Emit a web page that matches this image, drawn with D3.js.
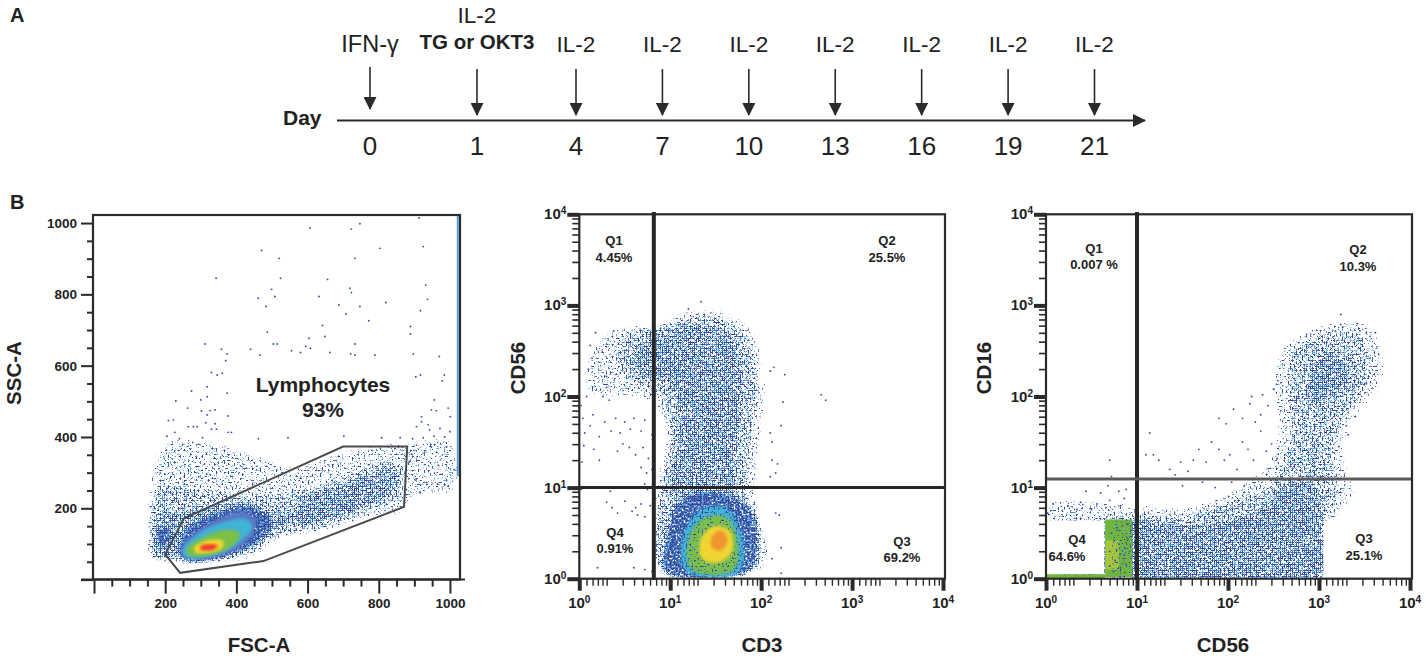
<!DOCTYPE html>
<html>
<head>
<meta charset="utf-8">
<script src="https://cdn.jsdelivr.net/npm/d3@7"></script>
<style>
body{margin:0;background:#fff;}
text{font-family:"Liberation Sans",Arial,sans-serif;fill:#222;}
</style>
</head>
<body>
<svg id="fig" width="1426" height="658"></svg>
<script>
// --- panel A
var days = [0,1,4,7,10,13,16,19,21];
var treatments = ["IFN-γ","IL-2","IL-2","IL-2","IL-2","IL-2","IL-2","IL-2","IL-2"];

// --- panel B, tick labels and texts
var fscTicks = [200,400,600,800,1000];
var decades = [1,10,100,1000,10000];
var decadeLabels = ["0","1","2","3","4"];
var quadCd3 = [["Q1","4.45%"],["Q2","25.5%"],["Q3","69.2%"],["Q4","0.91%"]];
var quadCd56 = [["Q1","0.007 %"],["Q2","10.3%"],["Q3","25.1%"],["Q4","64.6%"]];

// lymphocyte gate, FSC-A / SSC-A values
var gate = [[253,172],[700,373],[880,373],[871,204],[476,52],[242,19],[200,71]];
var edgeStrip = [[1022,1023],[1022,290]];

// density contours, [fsc,ssc]
var fscLevels = [
 {level:"sparse",p:[[150,230],[165,330],[205,400],[300,385],[420,375],[560,330],[700,375],[880,400],[1010,400],[1020,240],[900,220],[880,180],[780,160],[640,120],[520,100],[460,55],[300,30],[200,35],[150,50]]},
 {level:"sparse",p:[[150,220],[160,340],[210,405],[300,400],[410,375],[320,250],[180,210]]},
 {level:"light",p:[[150,50],[140,130],[160,260],[280,270],[430,250],[560,260],[700,300],[800,340],[870,340],[870,220],[780,180],[640,130],[520,110],[460,70],[300,40],[200,40]]},
 {level:"medium",p:[[165,60],[155,130],[175,200],[250,200],[340,220],[420,230],[500,200],[600,220],[680,250],[760,290],[790,270],[760,210],[680,165],[590,150],[510,130],[450,80],[320,45],[220,50]]},
 {level:"medium",p:[[560,140],[560,225],[680,275],[780,310],[850,330],[860,250],[760,190],[650,150]]},
 {level:"dense",p:[[165,90],[165,150],[215,165],[235,110],[210,80]]},
 {level:"dense",p:[[235,45],[220,90],[250,155],[330,200],[425,225],[510,190],[510,130],[445,75],[340,40]]},
 {level:"blue",p:[[252,62],[245,88],[280,128],[350,170],[420,190],[455,165],[435,112],[345,62]]},
 {level:"cyan",p:[[255,64],[250,85],[288,125],[360,160],[425,170],[445,148],[415,110],[340,68]]},
 {level:"green",p:[[265,68],[262,88],[310,120],[370,140],[410,130],[395,100],[340,72]]},
 {level:"yellow",p:[[285,76],[282,92],[320,110],[362,108],[360,88],[325,76]]},
 {level:"red",p:[[300,84],[300,94],[330,100],[348,94],[335,84]]}
];
// log10 values below, [cd3,cd56]
var cd3Levels = [
 {level:"sparse",p:[[.05,2.0],[.1,2.55],[.4,2.8],[.85,2.85],[1.2,3.0],[1.6,2.98],[1.95,2.75],[2.08,2.2],[2.05,1.6],[2.0,1.1],[2.05,.6],[2.15,.3],[2,.03],[.85,.03],[.8,1],[.9,1.6],[.75,1.9],[.4,1.95]]},
 {level:"light",p:[[.35,2.5],[.5,2.75],[.85,2.8],[1.2,2.93],[1.6,2.9],[1.9,2.65],[2,2.2],[1.95,1.6],[1.9,1.1],[1.95,.6],[2.05,.3],[1.95,.05],[.85,.05],[.85,1],[.95,1.6],[.8,2.0],[.45,2.2]]},
 {level:"medium",p:[[.9,2.75],[1.3,2.85],[1.75,2.65],[1.85,2],[1.75,1.3],[1.75,.9],[.95,.9],[1.05,1.6],[.95,2.1],[.6,2.2],[.55,2.5]]},
 {level:"medium",p:[[.9,2.3],[.95,2.6],[1.2,2.65],[1.3,2.4],[1.2,2.1],[1.0,2.15]]},
 {level:"dense",p:[[.9,.03],[.9,.5],[1.05,.9],[1.5,1.02],[1.95,.8],[2.02,.3],[1.9,.03]]},
 {level:"cyan",p:[[1.18,.08],[1.14,.46],[1.32,.74],[1.6,.78],[1.78,.5],[1.76,.08]]},
 {level:"light",p:[[1.1,.04],[1.08,.5],[1.3,.84],[1.65,.86],[1.86,.55],[1.84,.04]]},
 {level:"green",p:[[1.24,.1],[1.2,.42],[1.36,.66],[1.6,.68],[1.73,.46],[1.7,.1]]},
 {level:"sparse",p:[[1.15,.06],[1.12,.46],[1.34,.74],[1.62,.76],[1.8,.48],[1.78,.06]]},
 {level:"yellow",p:[[1.35,.22],[1.34,.45],[1.5,.58],[1.66,.52],[1.68,.3],[1.55,.18]]},
 {level:"orange",p:[[1.46,.34],[1.46,.47],[1.57,.53],[1.63,.42],[1.56,.31]]}
];
// [cd56,cd16]
var cd56Levels = [
 {level:"sparse",p:[[0,.02],[0,.85],[.5,.9],[1,.85],[1.6,.85],[2.1,1.05],[2.4,1.3],[2.5,1.7],[2.45,2.1],[2.55,2.55],[3.1,2.85],[3.6,2.8],[3.75,2.2],[3.35,1.6],[3.35,1.2],[3.45,.9],[3.2,.6],[3.1,.02]]},
 {level:"light",p:[[0,.02],[0,.65],[.4,.72],[.9,.75],[1.5,.75],[2.0,.9],[2.4,1.05],[2.65,1.6],[2.6,2.1],[2.65,2.5],[3.1,2.75],[3.5,2.7],[3.6,2.2],[3.25,1.6],[3.2,1.2],[3.28,.9],[3.1,.6],[3.05,.02]]},
 {level:"medium",p:[[.95,-.1],[.95,.66],[1.6,.64],[2.3,.8],[2.55,1.05],[2.95,1.1],[3.1,.7],[3.05,-.1]]},
 {level:"light",p:[[2.75,1.1],[2.85,1.7],[2.75,2.0],[2.8,2.4],[3.2,2.6],[3.4,2.3],[3.25,1.9],[3.05,1.6],[3.1,1.1]]},
 {level:"medium",p:[[2.82,2.05],[2.98,2.48],[3.28,2.45],[3.38,2.2],[3.15,1.95],[2.92,1.85]]},
 {level:"light",p:[[2.4,.05],[2.4,.6],[2.65,.9],[2.95,1.0],[3.03,.7],[3.03,.05]]},
 {level:"medium",p:[[.9,-.05],[.9,.7],[1.2,.66],[1.2,-.05]]}
];
// solid block and strip left of the vertical gate, [cd56,cd16]
var cd56Block = [[.65,.02],[.65,.65],[.95,.65],[.95,.02]];
var cd56Core = [[.66,.1],[.66,.42],[.8,.42],[.8,.1]];
var cd56Strip = [[0,0],[0,.05],[.65,.05],[.65,0]];
var cd56Grain = [[.72,-.05],[.72,.7],[1,.7],[1,-.05]];
var cd56WhiteQ4 = [[0,.05],[.64,.64]];
var cd56WhiteQ3 = [[3.05,0.02],[3.99,.64]];

// outlying events, flat x,y lists
var fscEvents = [
607,986,723,983,747,998,913,1014,471,923,520,901,733,901,803,929,925,934,524,845,343,845,656,842,499,814,719,817,723,805,932,826,461,789,508,794,632,794,937,786,820,777,483,766,688,770,747,766,708,745,917,754,772,726,642,713,889,710,487,694,889,689,649,682,604,677,312,661,504,661,515,661,595,654,608,649,733,661,358,646,440,646,555,642,580,637,663,637,721,633,733,630,789,630,466,630,374,633,370,614,897,633,970,626,330,581,346,574,360,579,904,569,917,574,984,574,318,541,978,557,274,529,318,513,374,523,300,504,230,501,956,504,263,481,302,473,326,474,340,476,948,476,962,474,995,481,318,462,377,459,1001,457,920,457,209,446,223,448,314,440,340,437,920,443,265,429,279,429,290,429,906,429,939,434,330,422,344,422,227,413,377,413,386,413,943,420,1000,415,972,424,
885,330,892,352,908,345,928,355,948,372,968,320,990,372,1012,308,905,282,935,272,965,268,995,262,915,245,985,400,955,402,925,398,895,395,
205,402,240,395,305,398,462,395,545,398,702,402,808,398,860,398
];

var cd3Events = [
.3,2.1,.26,2,.33,1.96,.08,2,.02,1.9,.04,1.76,.06,1.6,.12,1.68,.15,1.8,.22,1.56,.28,1.72,.35,1.62,.4,1.76,.45,1.6,.5,1.72,.56,1.64,.6,1.76,.68,1.62,.72,1.74,.8,1.58,
.05,1.46,.03,1.28,.16,1.42,.42,1.4,.48,1.48,.55,1.44,.62,1.36,.7,1.44,.76,1.32,.82,1.4,.68,1.22,.74,1.16,.8,1.2,.72,1.04,.78,1,.83,1.1,.84,.88,.75,.98,
.22,1.3,.34,.96,.02,.98,.2,.12,.36,.78,.42,.72,.5,.85,.58,.74,.64,.7,.68,.82,.72,.68,.78,.8,.3,.84,.62,.78,.8,.08,.72,.1,.6,.12,.82,.18,
.14,2.42,.1,2.3,.12,2.56,.18,2.7,.3,2.22,.38,2.72,2.1,2.28,2.14,2.32,2.26,2.24,2.24,1.94,2.66,2.02,2.71,1.96,2.22,1.68,2.1,1.6,2.12,1.5,2.12,1.3,2.18,1.26,2.16,1.16,2.1,1.12,2.16,.72,2.2,.7,2.22,.34,2.12,.22,2.22,.06,1.34,3.04,1.2,2.96
];

var cd56Events = [
.02,.72,.18,.74,.34,.76,.5,.76,.66,.78,.82,.8,.08,.82,.24,.8,.38,.84,.56,.82,.7,.86,.86,.88,.68,1.02,.72,1.12,.44,.96,.6,.94,.8,.96,.88,.98,.7,1.3,
1.14,1.6,1.1,1.36,1.18,1.36,1.24,1.3,1.3,1.1,1.36,1.2,1.42,1.14,1.48,1.28,1.56,1.18,1.62,1.3,1.68,1.42,1.76,1.28,1.82,1.5,1.9,1.42,1.96,1.3,2.02,1.36,2.1,1.2,2.16,1.5,2.22,1.42,2.28,1.3,2.36,1.62,2.42,1.4,2.48,1.48,2.54,1.32,1.98,1.7,1.9,1.76,2.06,1.86,2.16,1.76,2.24,1.92,2.3,1.72,2.36,1.8,2.44,1.9,2.26,2,2.38,2.02,2.5,2.08,1.5,1.02,1.72,1.06,1.86,1,2.04,1.06,2.18,1.02,
3.56,2.66,3.62,2.7,3.52,2.7,3.45,2.72,3.26,2.76,3.18,2.72,3.24,2.9,3.42,2.8,3.5,2.4,3.56,2.42,3.56,2.26,3.52,2.14,3.4,1.78,3.3,1.68,3.32,1.58,
.7,.3,.72,.5,.76,.2,.8,.38,.84,.58,.88,.16,.9,.44,.74,.08,.82,.12,.78,.56,.92,.3,.86,.26,.7,.14,.75,.42,.9,.6
];

// how each contour level is painted
var stipple = {sparse:.05,light:.11,medium:.16,dense:.23};
var solid = {blue:"#5a78c6",cyan:"#3fb3d6",green:"#7cc046",yellow:"#f0d530",orange:"#f0952e",red:"#ee3a2a"};

var svg = d3.select("#fig");
var defs = svg.append("defs");
defs.append("filter").attr("id","soft").append("feGaussianBlur").attr("stdDeviation",1.8);
defs.append("marker").attr("id","head").attr("markerUnits","userSpaceOnUse")
  .attr("markerWidth",13).attr("markerHeight",13).attr("refX",12).attr("refY",6.5).attr("orient","auto")
  .append("path").attr("d","M0,0L13,6.5L0,13Z").attr("fill","#2a2a2a");

// grain filter: turns a contour into flow cytometry style dots
function addLayer(f,seed,d,rgb,name){
  f.append("feTurbulence").attr("type","fractalNoise").attr("baseFrequency",.5).attr("numOctaves",1).attr("seed",seed).attr("result","n"+name);
  f.append("feColorMatrix").attr("in","n"+name).attr("type","matrix")
    .attr("values","0 0 0 0 0 0 0 0 0 0 0 0 0 0 0 1 0 0 0 0").attr("result","a"+name);
  f.append("feComposite").attr("in","a"+name).attr("in2","edge").attr("operator","arithmetic")
    .attr("k1",1).attr("k2",0).attr("k3",d).attr("k4",0).attr("result","s"+name);
  f.append("feComponentTransfer").attr("in","s"+name).attr("result","m"+name)
    .append("feFuncA").attr("type","linear").attr("slope",10).attr("intercept",-6.6);
  f.append("feColorMatrix").attr("in","m"+name).attr("type","matrix")
    .attr("values","0 0 0 0 "+rgb[0]+" 0 0 0 0 "+rgb[1]+" 0 0 0 0 "+rgb[2]+" 0 0 0 1 0").attr("result","o"+name);
}
Object.keys(stipple).forEach(function(k,i){
  var f = defs.append("filter").attr("id","st-"+k).attr("filterUnits","userSpaceOnUse")
    .attr("x",0).attr("y",0).attr("width",1426).attr("height",658).attr("color-interpolation-filters","sRGB");
  f.append("feGaussianBlur").attr("in","SourceAlpha").attr("stdDeviation",4).attr("result","edge");
  addLayer(f,11+i,stipple[k]-.035,[.31,.70,.89],"C");
  addLayer(f,3+i,stipple[k],[.2,.28,.62],"B");
  var m = f.append("feMerge");
  m.append("feMergeNode").attr("in","oC");
  m.append("feMergeNode").attr("in","oB");
});

// ---------- panel A
var dayPos = d3.scaleLinear().domain([0,1,2,8]).range([370,477,576,1094.5]);
var dayY = 120.5;

svg.append("text").attr("x",10).attr("y",22).attr("font-size",20).attr("font-weight","bold").text("A");
svg.append("text").attr("x",10).attr("y",209).attr("font-size",20).attr("font-weight","bold").text("B");
svg.append("text").attr("x",283).attr("y",125).attr("font-size",21).attr("font-weight","bold").text("Day");

svg.append("line").attr("x1",337).attr("x2",1145).attr("y1",dayY).attr("y2",dayY)
  .attr("stroke","#2a2a2a").attr("stroke-width",2).attr("marker-end","url(#head)");

var dayG = svg.selectAll(".day").data(days).enter().append("g").attr("class","day")
  .attr("transform",function(d,i){return "translate("+dayPos(i)+",0)";});
dayG.append("line").attr("y1",function(d,i){return i==0?67:69;}).attr("y2",function(d,i){return i==0?109:115;})
  .attr("stroke","#2a2a2a").attr("stroke-width",1.6).attr("marker-end","url(#head)");
dayG.append("text").attr("text-anchor","middle").attr("y",155).attr("font-size",26).text(function(d){return d;});
dayG.append("text").attr("text-anchor","middle").attr("y",function(d,i){return i==1?23:52;})
  .attr("font-size",function(d,i){return i==0?23.5:22.5;}).text(function(d,i){return treatments[i];});
svg.append("text").attr("x",dayPos(1)).attr("y",49).attr("text-anchor","middle").attr("font-size",20.5).attr("font-weight","bold").text("TG or OKT3");

// ---------- panel B helpers
var line = d3.line().curve(d3.curveCatmullRomClosed.alpha(0.5));
function chunk(a){
  var out=[];
  for(var i=0;i<a.length;i+=2) out.push([a[i],a[i+1]]);
  return out;
}
function drawLevels(g,levels,x,y,conv){
  levels.forEach(function(l){
    var d = line(l.p.map(function(p){return [x(conv(p[0])),y(conv(p[1]))];}));
    var path = g.append("path").attr("d",d);
    if(stipple[l.level]) path.attr("fill","#000").attr("filter","url(#st-"+l.level+")");
    else path.attr("fill",solid[l.level]).attr("filter","url(#soft)");
  });
}
function drawEvents(g,events,x,y,conv){
  g.append("g").selectAll("circle").data(chunk(events)).enter().append("circle")
    .attr("cx",function(d){return x(conv(d[0]));}).attr("cy",function(d){return y(conv(d[1]));})
    .attr("r",0.95).attr("fill","#3a50a8");
}
function pow10(v){return Math.pow(10,v);}
function same(v){return v;}
function bold(sel,size){return sel.attr("font-size",size).attr("font-weight","bold").attr("text-anchor","middle");}

// ---------- FSC / SSC
var fscX = d3.scaleLinear().domain([0,1024]).range([94,458.5]);
var fscY = d3.scaleLinear().domain([0,1024]).range([579.6,214.5]);
var p1 = svg.append("g");
drawLevels(p1,fscLevels,fscX,fscY,same);
drawEvents(p1,fscEvents,fscX,fscY,same);
p1.append("line").attr("x1",fscX(edgeStrip[0][0])).attr("x2",fscX(edgeStrip[1][0]))
  .attr("y1",fscY(edgeStrip[0][1])).attr("y2",fscY(edgeStrip[1][1]))
  .attr("stroke","#4f9fd6").attr("stroke-width",2);
p1.append("path").attr("d",d3.line().curve(d3.curveLinearClosed)(gate.map(function(p){return [fscX(p[0]),fscY(p[1])];})))
  .attr("fill","none").attr("stroke","#4a4a4a").attr("stroke-width",2);
p1.append("rect").attr("x",93).attr("y",215).attr("width",367).attr("height",364.5)
  .attr("fill","none").attr("stroke","#2a2a2a").attr("stroke-width",2.2);

function linAxis(g,axis,scale){
  g.call(axis.scale(scale).tickValues(d3.range(0,1001,50)).tickSizeOuter(0).tickFormat(function(d){return fscTicks.indexOf(d)>=0?d:"";}));
  g.select(".domain").remove();
  g.selectAll(".tick line").attr("stroke","#2a2a2a").attr("stroke-width",2);
  g.selectAll("text").attr("font-size",13.5).attr("font-weight","bold").attr("font-family","Liberation Sans");
}
var p1x = p1.append("g").attr("transform","translate(0,579.6)");
linAxis(p1x,d3.axisBottom(),fscX);
p1x.selectAll(".tick line").attr("y2",function(d){return d%200==0?14:7;});
p1x.selectAll(".tick text").attr("y",19).attr("dy",".71em");
var p1y = p1.append("g").attr("transform","translate(93,0)");
linAxis(p1y,d3.axisLeft(),fscY);
p1y.selectAll(".tick line").attr("x2",function(d){return d%200==0?-12:-6;});
p1y.selectAll(".tick text").attr("x",-16);
p1.append("line").attr("x1",81).attr("x2",465).attr("y1",579.6).attr("y2",579.6).attr("stroke","#2a2a2a").attr("stroke-width",2);

bold(p1.append("text").attr("x",323).attr("y",392),21).text("Lymphocytes");
bold(p1.append("text").attr("x",323).attr("y",417),21).text("93%");
bold(p1.append("text").attr("x",259).attr("y",652),20.5).text("FSC-A");
bold(p1.append("text").attr("transform","translate(21,373) rotate(-90)"),20.5).text("SSC-A");

// ---------- log panels
var xSubs = [1.2,1.4,1.6,1.8,2,3,4,5,6,7,8,9];
var ySubs = [2,3,4,5,6,7,8,9];
function decadeTicks(subs){
  var out=[];
  decades.forEach(function(d,i){
    out.push(d);
    if(i<4) subs.forEach(function(s){out.push(d*s);});
  });
  return out;
}
function isDecade(d){return decades.indexOf(Math.round(d))>=0 && Math.abs(Math.log10(d)%1)<1e-6;}

function logPanel(o){
  var x = d3.scaleLog().domain([1,10000]).range([o.x0,o.x1]);
  var y = d3.scaleLog().domain([1,10000]).range([578.7,214.3]);
  var g = svg.append("g");
  var clipId = "clip"+o.xName;
  svg.select("defs").append("clipPath").attr("id",clipId).append("rect")
    .attr("x",o.x0).attr("y",214.3).attr("width",o.frameR-o.x0).attr("height",364.4);
  var plot = g.append("g").attr("clip-path","url(#"+clipId+")");
  drawLevels(plot,o.levels,x,y,pow10);
  if(o.extra) o.extra(plot,x,y);
  drawEvents(plot,o.events,x,y,pow10);

  // quadrant gates
  g.append("line").attr("x1",x(o.qx)).attr("x2",x(o.qx)).attr("y1",212).attr("y2",580)
    .attr("stroke","#262626").attr("stroke-width",4);
  g.append("line").attr("x1",o.x0).attr("x2",o.frameR).attr("y1",y(o.qy)).attr("y2",y(o.qy))
    .attr("stroke",o.qyColor).attr("stroke-width",3);
  g.append("rect").attr("x",o.x0).attr("y",214.3).attr("width",o.frameR-o.x0).attr("height",364.4)
    .attr("fill","none").attr("stroke","#2a2a2a").attr("stroke-width",2.2);

  var ax = g.append("g").attr("transform","translate(0,578.7)")
    .call(d3.axisBottom(x).tickValues(decadeTicks(xSubs)).tickSizeOuter(0).tickFormat(""));
  ax.select(".domain").remove();
  ax.selectAll(".tick line").attr("stroke","#2a2a2a")
    .attr("stroke-width",function(d){return isDecade(d)?4:1.4;})
    .attr("y2",function(d){return isDecade(d)?12:7;});
  var ay = g.append("g").attr("transform","translate("+o.x0+",0)")
    .call(d3.axisLeft(y).tickValues(decadeTicks(ySubs)).tickSizeOuter(0).tickFormat(""));
  ay.select(".domain").remove();
  ay.selectAll(".tick line").attr("stroke","#2a2a2a")
    .attr("stroke-width",function(d){return isDecade(d)?4:1.6;})
    .attr("x2",function(d){return isDecade(d)?-12:-7;});

  decades.forEach(function(d,i){
    var t = g.append("text").attr("x",x(d)).attr("y",608).attr("text-anchor","middle")
      .attr("font-size",15).attr("font-weight","bold").text("10");
    t.append("tspan").attr("dy",-5).attr("font-size",10).text(decadeLabels[i]);
    var t2 = g.append("text").attr("x",o.x0-13).attr("y",y(d)+5).attr("text-anchor","end")
      .attr("font-size",15).attr("font-weight","bold").text("10");
    t2.append("tspan").attr("dy",-5).attr("font-size",10).text(decadeLabels[i]);
  });

  o.quads.forEach(function(q,i){
    var c = o.quadPos[i];
    bold(g.append("text").attr("x",c[0]).attr("y",c[1]),13).text(q[0]);
    bold(g.append("text").attr("x",c[2]).attr("y",c[3]),13).text(q[1]);
  });
  bold(g.append("text").attr("x",o.xLabel).attr("y",652),20.5).text(o.xName);
  bold(g.append("text").attr("transform","translate("+o.yLabel+",368) rotate(-90)"),20.5).text(o.yName);
}

logPanel({
  x0:579.3,x1:943,frameR:945,levels:cd3Levels,events:cd3Events,
  qx:6.6,qy:10,qyColor:"#262626",quads:quadCd3,
  quadPos:[[614,245,614,262],[887,245,887,262],[902,546,902,562],[615,537,615,553]],
  xName:"CD3",yName:"CD56",xLabel:762,yLabel:525
});

logPanel({
  x0:1046,x1:1410,frameR:1412,levels:cd56Levels,events:cd56Events,
  qx:10,qy:12.4,qyColor:"#5a5a5a",quads:quadCd56,
  quadPos:[[1094,253,1094,269],[1358,254,1358,271],[1364,543,1364,560],[1077,544,1067,561]],
  xName:"CD56",yName:"CD16",xLabel:1223,yLabel:991,
  extra:function(g,x,y){
    function white(b){
      g.append("rect").attr("x",x(pow10(b[0][0]))).attr("y",y(pow10(b[1][1])))
        .attr("width",x(pow10(b[1][0]))-x(pow10(b[0][0]))).attr("height",y(pow10(b[0][1]))-y(pow10(b[1][1])))
        .attr("fill","#fff");
    }
    white(cd56WhiteQ4);
    white(cd56WhiteQ3);
    var flat = d3.line();
    function poly(p,c){
      g.append("path").attr("d",flat(p.map(function(v){return [x(pow10(v[0])),y(pow10(v[1]))];}))+"Z").attr("fill",c);
    }
    poly(cd56Block,"#72b53c");
    poly(cd56Core,"#a5c63a");
    poly(cd56Strip,"#72b53c");
    drawLevels(g,[{level:"sparse",p:cd56Grain}],x,y,pow10);
  }
});
</script>
</body>
</html>
